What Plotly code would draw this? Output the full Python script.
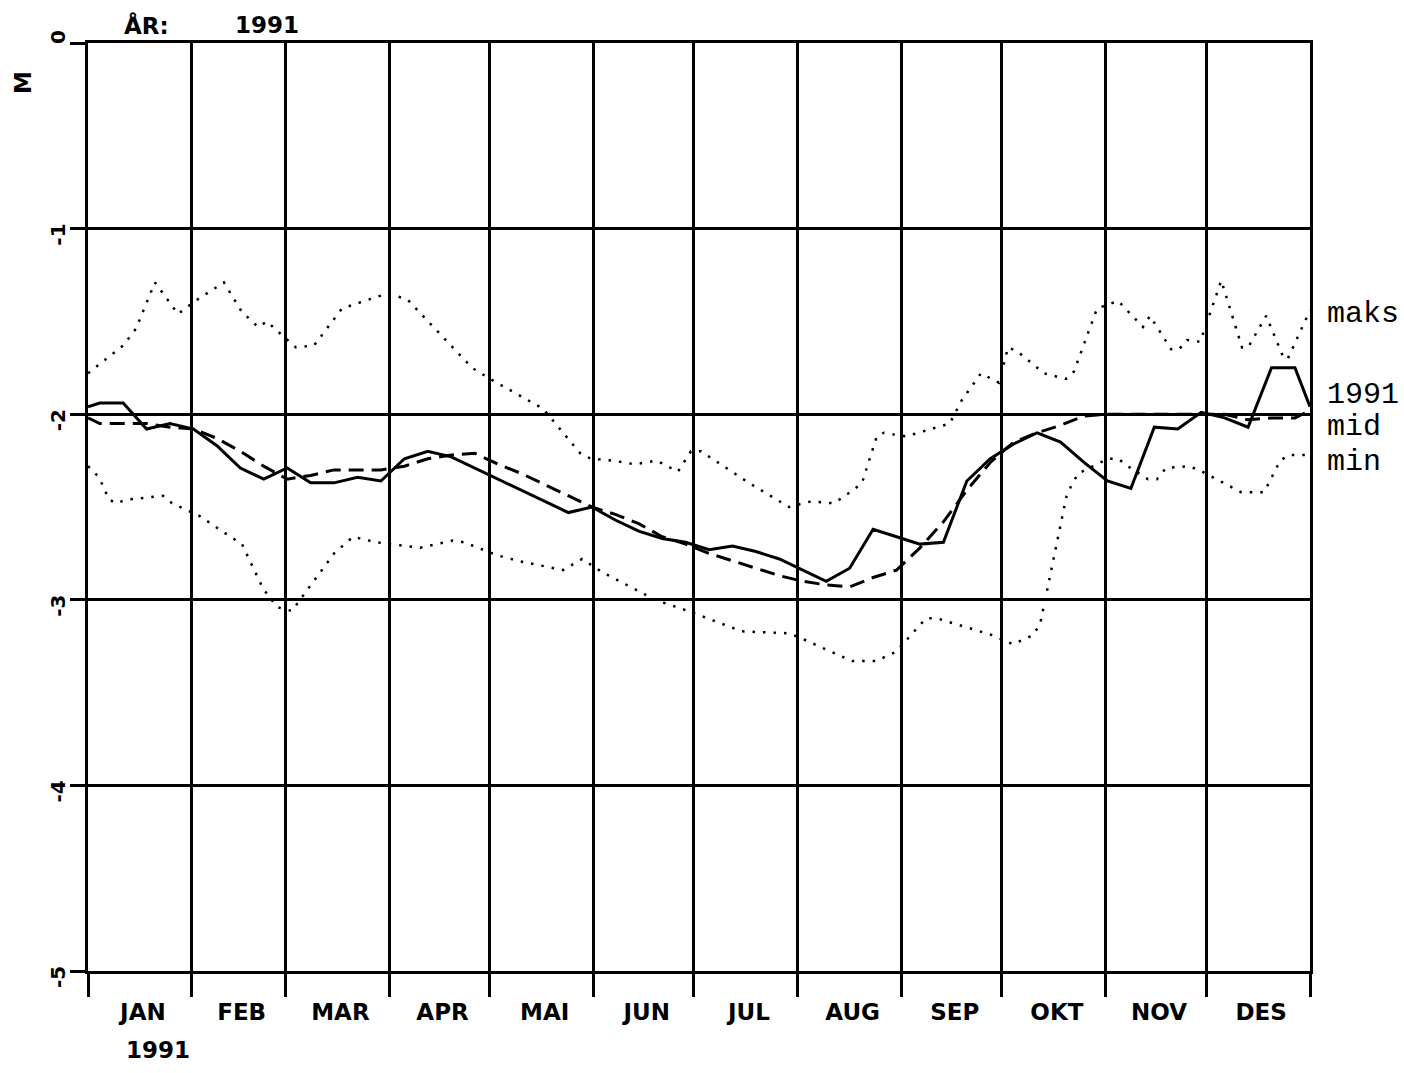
import plotly.graph_objects as go

# ---------------- data ----------------
MONTHS = ["JAN", "FEB", "MAR", "APR", "MAI", "JUN", "JUL", "AUG", "SEP", "OKT", "NOV", "DES"]
MONTH_STARTS = [0, 31, 59, 90, 120, 151, 181, 212, 243, 273, 304, 334, 365]
MONTH_MIDS = [15.5, 45, 74.5, 105, 135.5, 166, 196.5, 227.5, 258, 288.5, 319, 349.5]

Y_TICKS = [0, -1, -2, -3, -4, -5]
Y_TICK_TEXT = ["0", "-1", "-2", "-3", "-4", "-5"]

# weekly values (day of year), 1991 and mid
WEEK_DAYS = [0, 3.5, 10.5, 17.5, 24.5, 31.5, 38.5, 45.5, 52.5, 59.5, 66.5, 73.5, 80.5,
             87.5, 94.5, 101.5, 108.5, 115.5, 122.5, 129.5, 136.5, 143.5, 150.5, 157.5,
             164.5, 171.5, 178.5, 185.5, 192.5, 199.5, 206.5, 213.5, 220.5, 227.5, 234.5,
             241.5, 248.5, 255.5, 262.5, 269.5, 276.5, 283.5, 290.5, 297.5, 304.5, 311.5,
             318.5, 325.5, 332.5, 339.5, 346.5, 353.5, 360.5, 365]

Y_1991 = [-1.96, -1.94, -1.94, -2.08, -2.05, -2.08, -2.17, -2.29, -2.35, -2.29, -2.37,
          -2.37, -2.34, -2.36, -2.24, -2.20, -2.23, -2.29, -2.35, -2.41, -2.47, -2.53,
          -2.50, -2.57, -2.63, -2.67, -2.69, -2.73, -2.71, -2.74, -2.78, -2.84, -2.90,
          -2.83, -2.62, -2.66, -2.70, -2.69, -2.36, -2.24, -2.16, -2.10, -2.15, -2.26,
          -2.36, -2.40, -2.07, -2.08, -1.99, -2.02, -2.07, -1.75, -1.75, -1.96]

Y_MID = [-2.02, -2.05, -2.05, -2.05, -2.07, -2.08, -2.13, -2.20, -2.28, -2.35, -2.33,
         -2.30, -2.30, -2.30, -2.28, -2.24, -2.22, -2.21, -2.27, -2.32, -2.38, -2.44,
         -2.50, -2.54, -2.59, -2.66, -2.70, -2.75, -2.79, -2.83, -2.87, -2.90, -2.92,
         -2.93, -2.88, -2.84, -2.72, -2.58, -2.41, -2.26, -2.15, -2.10, -2.06, -2.01,
         -2.00, -2.00, -2.00, -2.00, -2.00, -2.00, -2.03, -2.02, -2.02, -1.98]

MAKS_DAYS = [0, 3.6, 10.5, 14.3, 20.0, 26.9, 32.0, 40.6, 46.0, 50.8, 53.5, 55.8, 62.1,
             67.5, 75.9, 89.3, 95.3, 114.7, 120.1, 135.9, 147.0, 150.2, 156.8, 163.3,
             169.9, 176.2, 180.1, 183.1, 197.4, 209.4, 215.9, 222.8, 228.5, 231.2, 235.6,
             237.7, 244.3, 257.4, 260.8, 266.7, 272.1, 274.8, 277.5, 285.6, 292.1, 294.5,
             301.4, 307.7, 315.1, 317.2, 323.5, 325.9, 328.3, 332.2, 338.5, 344.7, 346.5,
             351.9, 357.2, 358.4, 365]
Y_MAKS = [-1.78, -1.73, -1.63, -1.54, -1.29, -1.46, -1.39, -1.29, -1.45, -1.53, -1.50,
          -1.54, -1.64, -1.63, -1.43, -1.35, -1.38, -1.75, -1.81, -1.97, -2.21, -2.24,
          -2.25, -2.27, -2.25, -2.31, -2.20, -2.20, -2.37, -2.50, -2.47, -2.48, -2.41,
          -2.37, -2.12, -2.10, -2.12, -2.05, -1.93, -1.78, -1.83, -1.64, -1.66, -1.78,
          -1.81, -1.77, -1.43, -1.39, -1.53, -1.47, -1.65, -1.65, -1.60, -1.61, -1.28,
          -1.64, -1.64, -1.47, -1.70, -1.70, -1.44]

MIN_DAYS = [0, 3.3, 6.3, 8.4, 11.6, 22.4, 25.1, 33.5, 40.0, 46.0, 52.3, 56.5, 60.9, 65.4,
            73.5, 79.2, 86.0, 99.2, 109.0, 112.3, 122.2, 128.4, 141.9, 147.6, 153.5,
            169.4, 179.2, 195.3, 209.1, 212.1, 228.2, 235.4, 241.3, 250.3, 253.6, 270.0,
            276.3, 282.3, 284.4, 292.4, 295.7, 304.7, 307.7, 310.6, 316.6, 319.3, 322.0,
            328.6, 331.8, 344.4, 351.3, 356.1, 358.7, 365]
Y_MIN = [-2.28, -2.34, -2.46, -2.48, -2.46, -2.44, -2.48, -2.55, -2.63, -2.70, -2.94,
         -3.04, -3.06, -2.95, -2.75, -2.66, -2.69, -2.72, -2.68, -2.69, -2.76, -2.79,
         -2.84, -2.78, -2.85, -3.00, -3.06, -3.17, -3.18, -3.20, -3.33, -3.33, -3.28,
         -3.10, -3.10, -3.19, -3.24, -3.19, -3.13, -2.43, -2.32, -2.24, -2.24, -2.28,
         -2.35, -2.35, -2.29, -2.28, -2.30, -2.42, -2.42, -2.25, -2.22, -2.22]

SERIES_LABELS = ["maks", "1991", "mid", "min"]
SERIES_LABEL_Y = [-1.46, -1.895, -2.07, -2.255]

# ---------------- figure ----------------
PLOT_FONT = "DejaVu Sans"
BLACK = "#000000"

fig = go.Figure()
fig.add_trace(go.Scatter(x=MAKS_DAYS, y=Y_MAKS, mode="lines",
                         line=dict(color=BLACK, width=2.5, dash="2.5px,8px")))
fig.add_trace(go.Scatter(x=MIN_DAYS, y=Y_MIN, mode="lines",
                         line=dict(color=BLACK, width=2.5, dash="2.5px,8px")))
fig.add_trace(go.Scatter(x=WEEK_DAYS, y=Y_MID, mode="lines",
                         line=dict(color=BLACK, width=3, dash="15px,8px")))
fig.add_trace(go.Scatter(x=WEEK_DAYS, y=Y_1991, mode="lines",
                         line=dict(color=BLACK, width=3)))

annotations = []
# y tick labels (rotated like the plotter labels)
for v, t in zip(Y_TICKS, Y_TICK_TEXT):
    annotations.append(dict(x=-0.0245, xref="paper", y=v, yref="y", text=t,
                            textangle=-90, showarrow=False, xanchor="center",
                            yanchor="middle", yshift=(6 if v == 0 else -6),
                            font=dict(family=PLOT_FONT, size=20, color=BLACK, weight="bold")))
# axis unit
annotations.append(dict(x=-0.0532, xref="paper", y=0.958, yref="paper", text="M",
                        textangle=-90, showarrow=False, xanchor="center", yanchor="middle",
                        font=dict(family=PLOT_FONT, size=23, color=BLACK, weight="bold")))
# header
annotations.append(dict(x=0.0475, xref="paper", y=1.019, yref="paper", text="ÅR:",
                        showarrow=False, xanchor="center", yanchor="middle",
                        font=dict(family=PLOT_FONT, size=23, color=BLACK, weight="bold")))
annotations.append(dict(x=0.1465, xref="paper", y=1.019, yref="paper", text="1991",
                        showarrow=False, xanchor="center", yanchor="middle",
                        font=dict(family=PLOT_FONT, size=23, color=BLACK, weight="bold")))
# year under axis
annotations.append(dict(x=0.0573, xref="paper", y=-0.0851, yref="paper", text="1991",
                        showarrow=False, xanchor="center", yanchor="middle",
                        font=dict(family=PLOT_FONT, size=23, color=BLACK, weight="bold")))
# right-hand series labels
for lab, yv in zip(SERIES_LABELS, SERIES_LABEL_Y):
    annotations.append(dict(x=1.012, xref="paper", y=yv, yref="y", text=lab,
                            showarrow=False, xanchor="left", yanchor="middle",
                            font=dict(family="Liberation Mono", size=30, color=BLACK)))

fig.update_layout(
    width=1404, height=1073,
    margin=dict(l=88, r=94, t=43, b=102, pad=0),
    paper_bgcolor="white", plot_bgcolor="white",
    showlegend=False,
    annotations=annotations,
    xaxis=dict(
        range=[0, 365], tickmode="array", tickvals=MONTH_MIDS, ticktext=MONTHS,
        ticks="", showgrid=False, zeroline=False,
        showline=True, mirror=True, linecolor=BLACK, linewidth=2.5,
        tickfont=dict(family=PLOT_FONT, size=23, color=BLACK, weight="bold"),
        ticklabelstandoff=19, ticklabelshift=3,
        minor=dict(tickmode="array", tickvals=MONTH_STARTS, showgrid=True,
                   gridcolor=BLACK, gridwidth=2.5, ticks="outside", ticklen=23,
                   tickwidth=2.5, tickcolor=BLACK),
    ),
    yaxis=dict(
        range=[-5, 0], tickmode="array", tickvals=Y_TICKS, showticklabels=False,
        showgrid=True, gridcolor=BLACK, gridwidth=2.5, zeroline=False,
        ticks="outside", ticklen=15, tickwidth=2.5, tickcolor=BLACK,
        showline=True, mirror=True, linecolor=BLACK, linewidth=2.5,
    ),
)

fig.write_html("out.html", config={"displayModeBar": False},
               post_script="document.body.style.margin='0';document.body.style.padding='0';")
